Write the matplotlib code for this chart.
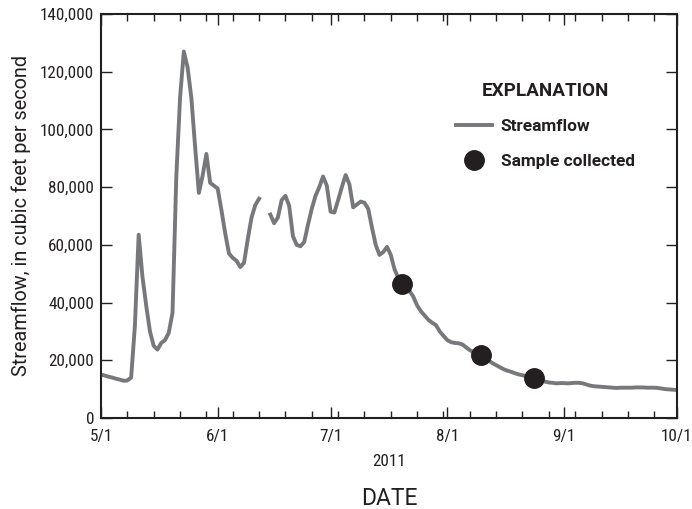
import numpy as np
import pandas as pd
import matplotlib
matplotlib.use("Agg")
import matplotlib.pyplot as plt
import matplotlib.dates as mdates
from matplotlib.ticker import FuncFormatter

plt.rcParams['font.family'] = ['Roboto Condensed', 'DejaVu Sans']

# daily streamflow, 5/1/2011 to 10/1/2011 (nan = no record)
dates = pd.date_range('2011-05-01', '2011-10-01', freq='D')
flow = [
    15000, 14700, 14300, 14000, 13600, 13300, 12900, 13000, 14000, 32000,
    63500, 49000, 39000, 30000, 25000, 23700, 26000, 27000, 29500, 36500,
    83500, 111000, 127000, 121500, 111000, 94000, 78000, 84000, 91500, 81500,
    80500, 79500, 72000, 64000, 57000, 55500, 54500, 52300, 53800, 62000,
    69500, 73800, 76000, np.nan, np.nan, 70500, 67500, 69500, 75500, 77000,
    73500, 63000, 60000, 59500, 61000, 67000, 72500, 77000, 80000, 83700,
    80500, 71500, 71200, 75500, 80000, 84200, 81000, 73000, 74000, 75000,
    74600, 72500, 66000, 60000, 56500, 57500, 59300, 56500, 51500, 48500,
    46500, 45000, 44000, 42000, 39000, 37000, 35500, 34000, 33000, 32200,
    30000, 28500, 27000, 26300, 26000, 25900, 25500, 24500, 23500, 22800,
    22000, 21700, 20800, 20000, 19000, 18300, 17600, 16900, 16400, 16000,
    15500, 15100, 14800, 14500, 14200, 14000, 13500, 13000, 12600, 12300,
    12200, 12000, 12100, 12100, 12000, 12100, 12200, 12200, 12000, 11600,
    11200, 11000, 10900, 10800, 10700, 10600, 10500, 10400, 10500, 10500,
    10500, 10500, 10600, 10600, 10600, 10500, 10500, 10500, 10400, 10200,
    10000, 9900, 9800, 9700,
]

# samples collected
sample_dates = pd.to_datetime(['2011-07-20', '2011-08-10', '2011-08-24'])
sample_flow = [46500, 21800, 14000]

dark = '#231f20'
gray = '#77787b'

fig = plt.figure(figsize=(6.92, 5.09), dpi=100)
ax = fig.add_axes([0.146, 0.1788, 0.832, 0.7937])

line, = ax.plot(dates, flow, color=gray, lw=2.8, solid_joinstyle='round',
                label='Streamflow', zorder=2)
pts, = ax.plot(sample_dates, sample_flow, 'o', color=dark, ms=14,
               label='Sample collected', zorder=3)

ax.set_xlim(pd.Timestamp('2011-05-01'), pd.Timestamp('2011-10-01'))
ax.set_ylim(0, 140000)
ax.set_yticks(np.arange(0, 140001, 20000))
ax.yaxis.set_major_formatter(FuncFormatter(lambda v, p: f'{v:,.0f}'))

ax.xaxis.set_major_locator(mdates.MonthLocator())
ax.xaxis.set_major_formatter(mdates.DateFormatter('%-m/%-d'))
ax.xaxis.set_minor_locator(mdates.WeekdayLocator(byweekday=mdates.SU))

for s in ax.spines.values():
    s.set_linewidth(1.5)
    s.set_color(dark)

ax.tick_params(which='both', direction='in', top=True, right=True,
               color=dark, width=1.0, labelsize=12.3, labelcolor=dark)
ax.tick_params(which='major', length=8)
ax.tick_params(which='minor', length=5)
ax.tick_params(axis='x', pad=8)
ax.tick_params(axis='y', pad=5)

ax.set_ylabel('Streamflow, in cubic feet per second', fontsize=14.3,
              family=['Roboto', 'DejaVu Sans'], color=dark)
ax.yaxis.set_label_coords(-0.121, 0.5)
ax.text(0.5, -0.089, '2011', transform=ax.transAxes, ha='center', va='top',
        fontsize=12.3, color=dark)
ax.set_xlabel('DATE', fontsize=16.5, family=['Roboto', 'DejaVu Sans'],
              color=dark)
ax.xaxis.set_label_coords(0.5, -0.170)

leg = ax.legend(handles=[line, pts], title='EXPLANATION', loc='upper left',
                bbox_to_anchor=(0.585, 0.878), frameon=False, borderpad=0.57,
                prop={'family': ['Roboto', 'DejaVu Sans'], 'weight': 'bold', 'size': 12.4},
                handlelength=2.1, handletextpad=0.47, labelspacing=1.13,
                title_fontproperties={'family': ['Roboto', 'DejaVu Sans'],
                                      'weight': 'bold', 'size': 13.6})
leg._legend_box.align = 'center'
for t in leg.get_texts():
    t.set_color(dark)
leg.get_title().set_color(dark)

fig.savefig('out.png', dpi=100)
